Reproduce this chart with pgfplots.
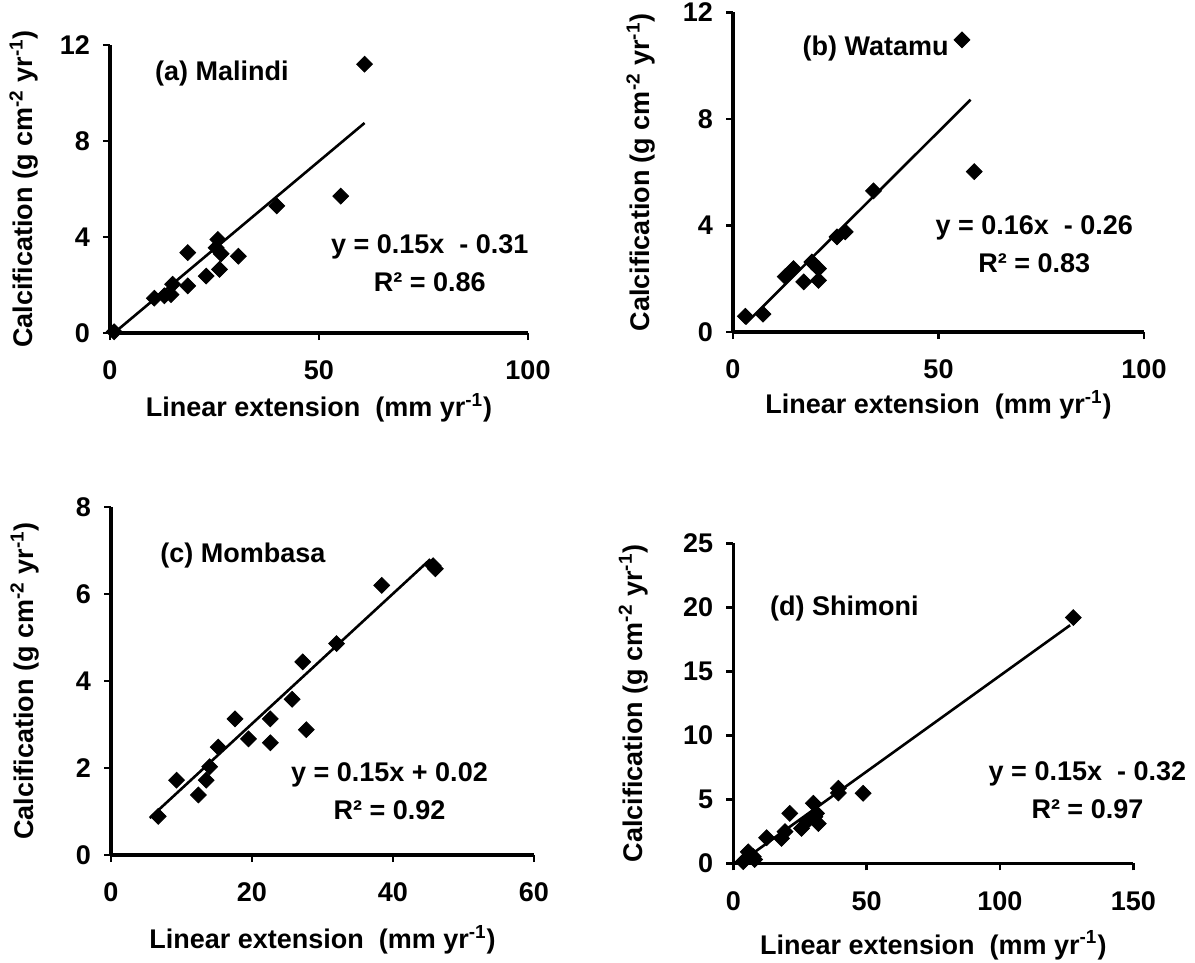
\documentclass[border=0pt]{standalone}
\usepackage{fontspec}
\setmainfont{Liberation Sans}
\usepackage{pgfplots}
\pgfplotsset{compat=1.18}
\pgfplotsset{
 panel/.style={
  scale only axis, anchor=south west, clip=false,
  axis x line*=bottom, axis y line*=left,
  axis line style={line width=1.8pt, -},
  tick style={line width=1.4pt, black}, major tick length=3.5pt, tick align=outside,
  tick label style={font=\fontsize{13.5}{15}\selectfont\bfseries},
  xticklabel style={yshift=-7pt},
  yticklabel style={xshift=-3pt},
  /pgf/number format/assume math mode=true,
  label style={font=\fontsize{13.5}{16}\selectfont\bfseries},
  ylabel={Calcification (g cm\textsuperscript{-2} yr\textsuperscript{-1})},
  xlabel={Linear extension\ \ (mm yr\textsuperscript{-1})},
 },
}
\tikzset{
 pts/.style={only marks, mark=square*, mark size=2.8pt, mark options={rotate=45, fill=black, draw=black}},
 fit/.style={black, line width=1.3pt, no marks},
 eq/.style={font=\fontsize{13.5}{19}\selectfont\bfseries, align=center},
 ttl/.style={font=\fontsize{13.5}{16}\selectfont\bfseries, anchor=west},
}
\begin{document}
\begin{tikzpicture}
\useasboundingbox (0,0) rectangle (597.5pt,-481.5pt);
% (a) Malindi
\begin{axis}[panel, at={(55pt,-166.5pt)}, width=209pt, height=144pt,
  xmin=0, xmax=100, ymin=0, ymax=12, xtick={0,50,100}, ytick={0,4,8,12},
  xlabel style={at={([yshift=-37.5pt]axis description cs:0.5,0)}, anchor=center},
  ylabel style={at={([xshift=-43pt]axis description cs:0,0.5)}, anchor=center}]
\addplot[pts] coordinates {(1,0.05)(10.6,1.45)(13,1.55)(14.6,1.6)(15,2.03)(18.6,3.35)(18.6,1.96)(23,2.37)(25.8,3.9)(26.2,2.65)(25.4,3.55)(26.6,3.3)(30.7,3.2)(39.9,5.3)(55.2,5.7)(60.9,11.2)};
\addplot[fit] coordinates {(1.3,0.05)(60.9,8.75)};
\node[ttl] at (axis cs:9.1,10.8) {(a) Malindi};
\node[eq] at (axis cs:76.5,2.9) {y = 0.15x\ \ - 0.31\\R² = 0.86};
\end{axis}
% (b) Watamu
\begin{axis}[panel, at={(366.5pt,-166pt)}, width=205.5pt, height=159.8pt,
  xmin=0, xmax=100, ymin=0, ymax=12, xtick={0,50,100}, ytick={0,4,8,12},
  xlabel style={at={([yshift=-36.5pt]axis description cs:0.5,0)}, anchor=center},
  ylabel style={at={([xshift=-46pt]axis description cs:0,0.5)}, anchor=center}]
\addplot[pts] coordinates {(3.0,0.59)(7.3,0.67)(12.7,2.08)(14.7,2.38)(17.2,1.88)(19.2,2.63)(20.8,2.38)(20.8,1.94)(25.3,3.57)(27.3,3.76)(34.2,5.3)(55.7,10.97)(58.7,6.02)};
\addplot[fit] coordinates {(3,0.3)(57.8,8.72)};
\node[ttl] at (axis cs:15.2,10.65) {(b) Watamu};
\node[eq] at (axis cs:73.3,3.3) {y = 0.16x\ \ - 0.26\\R² = 0.83};
\end{axis}
% (c) Mombasa
\begin{axis}[panel, at={(55.5pt,-427.5pt)}, width=211.5pt, height=174pt,
  xmin=0, xmax=60, ymin=0, ymax=8, xtick={0,20,40,60}, ytick={0,2,4,6,8},
  xlabel style={at={([yshift=-42.5pt]axis description cs:0.5,0)}, anchor=center},
  ylabel style={at={([xshift=-43pt]axis description cs:0,0.5)}, anchor=center}]
\addplot[pts] coordinates {(6.7,0.89)(9.3,1.72)(12.4,1.38)(13.5,1.72)(14.0,2.03)(15.2,2.48)(17.6,3.13)(19.5,2.67)(22.6,3.13)(22.6,2.58)(25.7,3.58)(27.2,4.44)(27.7,2.88)(32.0,4.86)(38.4,6.2)(45.7,6.65)(46.0,6.58)};
\addplot[fit] coordinates {(5.5,0.85)(45.3,6.8)};
\node[ttl] at (axis cs:6.0,6.88) {(c) Mombasa};
\node[eq] at (axis cs:39.5,1.46) {y = 0.15x + 0.02\\R² = 0.92};
\end{axis}
% (d) Shimoni
\begin{axis}[panel, at={(366.65pt,-431.65pt)}, width=200pt, height=160pt,
  xmin=0, xmax=150, ymin=0, ymax=25, xtick={0,50,100,150}, ytick={0,5,10,15,20,25},
  xlabel style={at={([yshift=-41pt]axis description cs:0.5,0)}, anchor=center},
  ylabel style={at={([xshift=-50pt]axis description cs:0,0.5)}, anchor=center}]
\addplot[pts] coordinates {(3.75,0.13)(5.6,0.9)(7.5,0.52)(8,0.3)(12.5,2.0)(18.1,1.95)(19.4,2.47)(21.2,3.9)(25.6,2.73)(27.5,3.25)(30,4.69)(30.6,3.64)(31.9,3.1)(31.2,3.9)(39.4,5.86)(39.4,5.5)(48.7,5.47)(127.5,19.2)};
\addplot[fit] coordinates {(3,0.13)(126.3,18.6)};
\node[ttl] at (axis cs:11.2,19.87) {(d) Shimoni};
\node[eq] at (axis cs:132.8,5.69) {y = 0.15x\ \ - 0.32\\R² = 0.97};
\end{axis}
\end{tikzpicture}
\end{document}
